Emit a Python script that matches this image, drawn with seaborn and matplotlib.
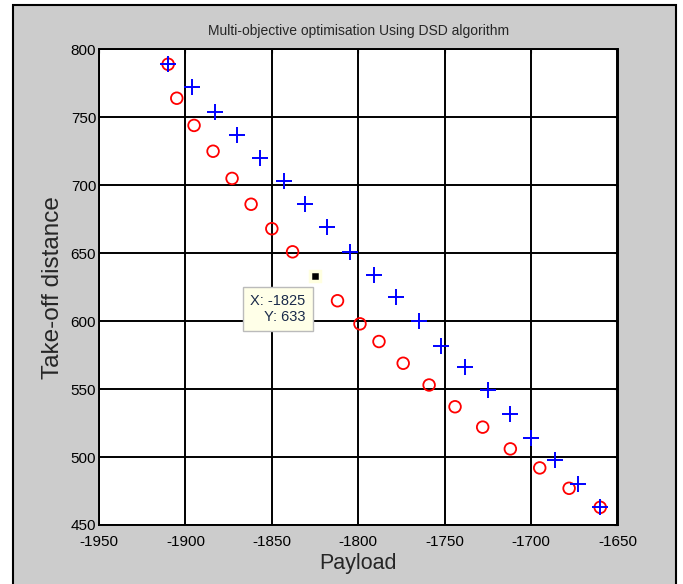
import matplotlib
matplotlib.use('Agg')
import matplotlib.pyplot as plt
import seaborn as sns
import pandas as pd
from matplotlib.patches import Rectangle

# DSD solutions (red circles) and reference front (blue plus)
circle_payload = [-1910, -1905, -1895, -1884, -1873, -1862, -1850, -1838,
                  -1812, -1799, -1788, -1774, -1759, -1744, -1728, -1712, -1695,
                  -1678, -1660]
circle_takeoff = [789, 764, 744, 725, 705, 686, 668, 651,
                  615, 598, 585, 569, 553, 537, 522, 506, 492,
                  477, 463]
plus_payload = [-1910, -1896, -1883, -1870, -1857, -1843, -1831, -1818, -1805,
                -1791, -1778, -1765, -1752, -1738, -1725, -1712, -1700, -1686,
                -1673, -1660]
plus_takeoff = [789, 772, 754, 737, 720, 703, 686, 669, 651,
                634, 618, 600, 582, 566, 549, 532, 514, 498,
                480, 463]
x_ticks = [-1950, -1900, -1850, -1800, -1750, -1700, -1650]
y_ticks = [450, 500, 550, 600, 650, 700, 750, 800]
# data cursor point
tip_x, tip_y = -1825, 633

df_c = pd.DataFrame({'Payload': circle_payload, 'Takeoff': circle_takeoff})
df_p = pd.DataFrame({'Payload': plus_payload, 'Takeoff': plus_takeoff})

sns.set_style('white')
plt.rcParams['font.family'] = ['Liberation Sans Narrow', 'Liberation Sans', 'DejaVu Sans']
plt.rcParams['axes.unicode_minus'] = False

fig = plt.figure(figsize=(6.83, 5.84), dpi=100)
fig.patch.set_facecolor('white')
fig.patches.append(Rectangle((13 / 683, -0.01), 663 / 683, 1 - 5 / 584 + 0.01,
                             transform=fig.transFigure, facecolor='#CCCCCC',
                             edgecolor='black', linewidth=1.5, zorder=-5))

ax = fig.add_axes([99 / 683, 1 - 525 / 584, (617.5 - 99) / 683, (525 - 49.3) / 584])
ax.set_zorder(2)
ax.set_facecolor('white')

sns.scatterplot(data=df_c, x='Payload', y='Takeoff', ax=ax, marker='o', s=70,
                facecolor='none', edgecolor='red', linewidth=1.3, zorder=3)
sns.scatterplot(data=df_p, x='Payload', y='Takeoff', ax=ax, marker='+', s=130,
                color='blue', linewidth=1.4, zorder=4)

ax.set_xlim(-1950, -1650)
ax.set_ylim(450, 800)
ax.set_xticks(x_ticks)
ax.set_yticks(y_ticks)
ax.grid(True, color='black', linewidth=1.4)
ax.set_axisbelow(True)
for s in ax.spines.values():
    s.set_color('black')
    s.set_linewidth(1.4)
ax.tick_params(direction='in', top=True, right=True, length=3, labelsize=11,
               colors='black')
ax.tick_params(axis='x', pad=7)
ax.tick_params(axis='y', pad=2)

ax.set_title('Multi-objective optimisation Using DSD algorithm', fontsize=10, pad=10)
ax.set_xlabel('Payload', fontsize=15.5, labelpad=3)
ax.set_ylabel('Take-off distance', fontsize=17.5, labelpad=5, family=['Liberation Sans', 'DejaVu Sans'])

# data tip
ax.plot(tip_x, tip_y, marker='s', color='black', markersize=7.5,
        markeredgecolor='#FFFFE0', markeredgewidth=2.5, zorder=6)
ax.text(tip_x - 21.5, tip_y - 24, 'X: -1825\n  Y: 633', ha='center', va='center',
        multialignment='right', fontsize=10.5, color='#1a2a4a', zorder=7,
        bbox=dict(boxstyle='square,pad=0.5', facecolor='#FFFFE8', edgecolor='#BBBBBB'))

fig.savefig('out.png', dpi=100)
